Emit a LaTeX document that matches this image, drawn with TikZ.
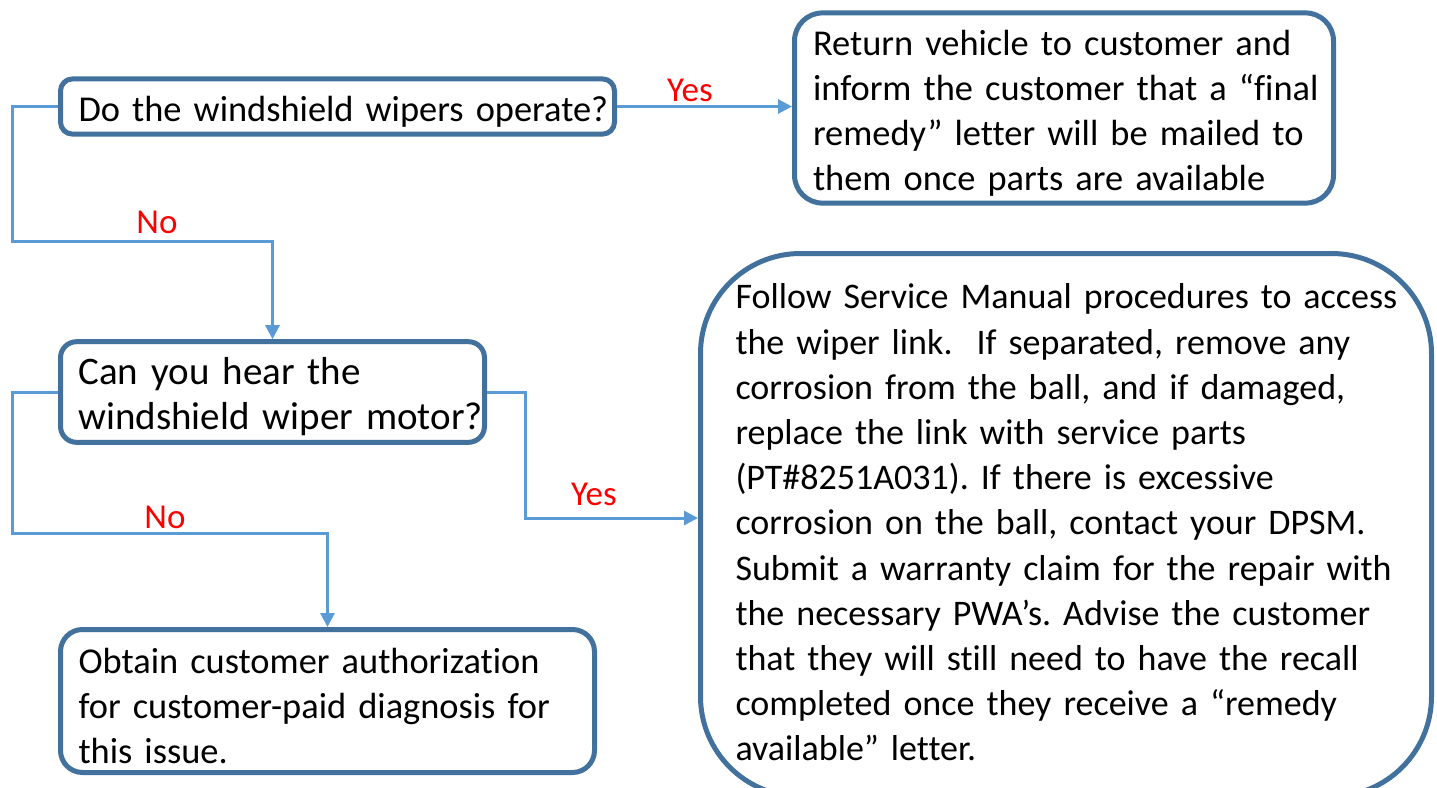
\documentclass[tikz,border=0pt]{standalone}
\usepackage{fontspec}
\setmainfont{Carlito}[Ligatures=NoCommon]
\usetikzlibrary{arrows.meta,positioning}
\definecolor{boxblue}{HTML}{41719C}
\definecolor{linkblue}{HTML}{5B9BD5}
\frenchspacing

\begin{document}
\begin{tikzpicture}[x=0.5pt,y=-0.5pt,
stepbox/.style={
rectangle,
draw=boxblue,
line width=2.5pt,
fill=white,
align=left,
inner xsep=9pt,
text height=18pt,
execute at begin node={\rightskip=0pt plus 1fil minus 100pt\relax},
font=\fontsize{18.2pt}{22.5pt}\selectfont
},
to/.style={-{Triangle[length=7pt,width=7pt]},draw=linkblue,line width=1.5pt},
answer/.style={text=red,font=\fontsize{17.5pt}{22.5pt}\selectfont}]

\useasboundingbox (0,0) rectangle (1437,788);
\clip (0,0) rectangle (1437,788);

\node (wipers) [stepbox,rounded corners=6pt,minimum width=277pt,minimum height=27pt,text width=259pt] at (337.5,106.5) {Do the windshield wipers operate?};
\node (return) [stepbox,rounded corners=14pt,minimum width=269.5pt,minimum height=93.5pt,text width=251pt] at (1064,108) {Return vehicle to customer and\\inform the customer that a “final\\remedy” letter will be mailed to\\them once parts are available};
\node (motor) [stepbox,rounded corners=8pt,minimum width=212pt,minimum height=45.5pt,text width=194pt,font=\fontsize{19.5pt}{22.5pt}\selectfont] at (272.5,392) {Can you hear the\\windshield wiper motor?};
\node (authorize) [stepbox,rounded corners=11pt,minimum width=267pt,minimum height=71.5pt,text width=249pt] at (327.5,701) {Obtain customer authorization\\for customer-paid diagnosis for\\this issue.};
\node (manual) [stepbox,rounded corners=50pt,minimum width=365.5pt,minimum height=271.5pt,inner xsep=17.5pt,text width=330.5pt,text height=10pt,font=\fontsize{18pt}{22.6pt}\selectfont] at (1066,525) {Follow Service Manual procedures to access\\the wiper link.\ \ If separated, remove any\\corrosion from the ball, and if damaged,\\replace the link with service parts\\(PT\#8251A031). If there is excessive\\corrosion on the ball, contact your DPSM.\\Submit a warranty claim for the repair with\\the necessary PWA’s. Advise the customer\\that they will still need to have the recall\\completed once they receive a “remedy\\available” letter.};

% bends of the connectors
\coordinate (bend1) at (12,241);
\coordinate (bend2) at (12,533);
\coordinate (bend3) at (525,518);
\coordinate (hit) at (manual.west |- bend3);

\draw[to] (wipers.east) -- (wipers.east -| return.west);
\draw[to] (wipers.west) -| (bend1) -| (motor.north);
\draw[to] (motor.west) -| (bend2) -| (authorize.north);
\draw[to] (motor.east) -| (bend3) -- (hit);

\node (yes1) [answer] at (690,90) {Yes};
\node (no1) [answer] at (157,222) {No};
\node (yes2) [answer] at (594,494) {Yes};
\node (no2) [answer] at (165,517) {No};
\end{tikzpicture}
\end{document}
